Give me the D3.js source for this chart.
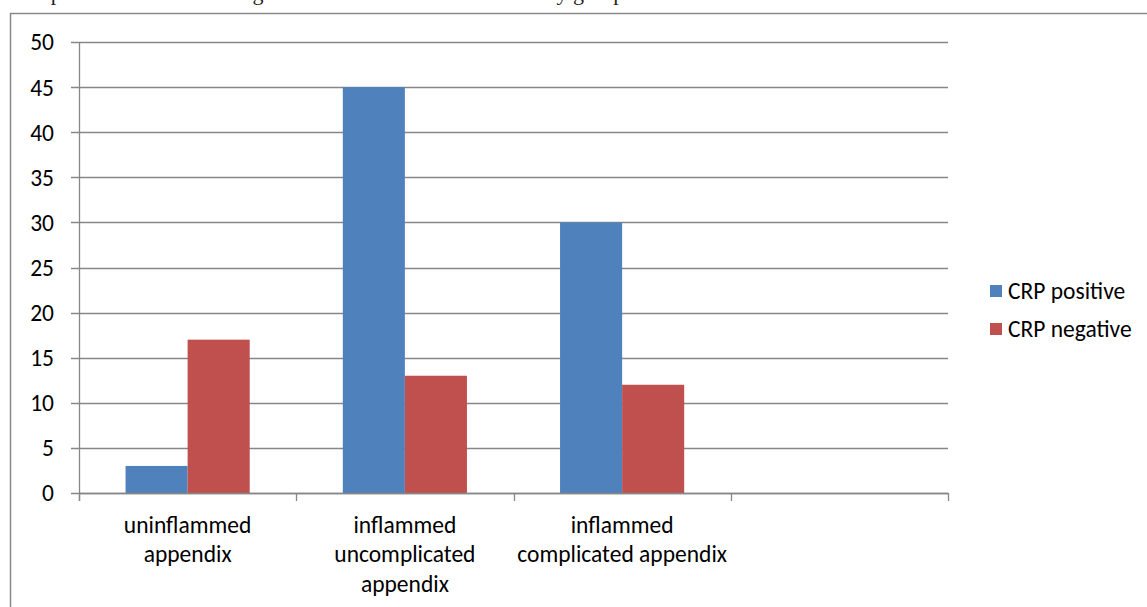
<!DOCTYPE html>
<html>
<head>
<meta charset="utf-8">
<script src="https://cdn.jsdelivr.net/npm/d3@7"></script>
<style>
  html, body { margin: 0; padding: 0; background: #ffffff; }
  svg { display: block; }
</style>
</head>
<body>
<svg id="chart" width="1147" height="607"></svg>
<script>
// Categories on the x axis (the last slot is an empty category)
const categories = ["uninflammed appendix", "inflammed uncomplicated appendix", "inflammed complicated appendix", "empty"];
const categoryLines = [
  ["uninflammed", "appendix"],
  ["inflammed", "uncomplicated", "appendix"],
  ["inflammed", "complicated appendix"],
  []
];
const seriesNames = ["CRP positive", "CRP negative"];
const crpPositive = [3, 45, 30];
const crpNegative = [17, 13, 12];
const yTickValues = [0, 5, 10, 15, 20, 25, 30, 35, 40, 45, 50];
const seriesColors = ["#4F81BD", "#C0504D"];

const svg = d3.select("#chart");
const fontUI = "Carlito, Calibri, Lato, 'Open Sans', sans-serif";
const fontSize = 23.5;

// caption line above the chart frame (only its lower edge shows)
svg.append("text")
  .attr("x", 8).attr("y", -0.5)
  .attr("font-family", "'Liberation Serif', 'Times New Roman', serif")
  .attr("font-size", 22)
  .attr("fill", "#222")
  .text("Comparison between finding and CRP test results in each study group");

// chart frame
svg.append("path")
  .attr("d", "M10.5,607 L10.5,13.5 L1147,13.5")
  .attr("fill", "none")
  .attr("stroke", "#888888")
  .attr("stroke-width", 1.5);

const plot = { left: 79, right: 948, top: 42, bottom: 493 };

const x0 = d3.scaleBand().domain(categories).range([plot.left, plot.right]).paddingInner(0).paddingOuter(0);
const x1 = d3.scaleBand().domain(seriesNames).range([0, x0.bandwidth()]).paddingInner(0).paddingOuter(0.75);
const y = d3.scaleLinear().domain([0, 50]).range([plot.bottom, plot.top]);

const gridColor = "#878787";

// horizontal gridlines with left tick stubs
svg.append("g").selectAll("line")
  .data(yTickValues)
  .join("line")
  .attr("x1", plot.left - 8).attr("x2", plot.right)
  .attr("y1", d => Math.round(y(d)) + 0.5).attr("y2", d => Math.round(y(d)) + 0.5)
  .attr("stroke", gridColor).attr("stroke-width", 1.3);

// y tick labels
svg.append("g").selectAll("text")
  .data(yTickValues)
  .join("text")
  .attr("x", 54).attr("y", d => y(d))
  .attr("dy", "0.36em")
  .attr("text-anchor", "end")
  .attr("font-family", fontUI).attr("font-size", fontSize)
  .attr("fill", "#000")
  .text(d => d);

// bars
const groups = svg.append("g").selectAll("g")
  .data(categories.slice(0, crpPositive.length))
  .join("g")
  .attr("transform", d => `translate(${x0(d)},0)`);

groups.selectAll("rect")
  .data((d, i) => [
    { s: seriesNames[0], v: crpPositive[i], c: seriesColors[0] },
    { s: seriesNames[1], v: crpNegative[i], c: seriesColors[1] }
  ])
  .join("rect")
  .attr("x", d => x1(d.s))
  .attr("width", x1.bandwidth())
  .attr("y", d => y(d.v))
  .attr("height", d => y(0) - y(d.v))
  .attr("fill", d => d.c);

// y axis line
svg.append("line")
  .attr("x1", plot.left + 0.5).attr("x2", plot.left + 0.5)
  .attr("y1", plot.top).attr("y2", plot.bottom + 8)
  .attr("stroke", gridColor).attr("stroke-width", 1.3);

// x axis line and category boundary ticks
svg.append("line")
  .attr("x1", plot.left).attr("x2", plot.right)
  .attr("y1", Math.round(y(0)) + 0.5).attr("y2", Math.round(y(0)) + 0.5)
  .attr("stroke", gridColor).attr("stroke-width", 1.3);

const boundaries = categories.map(c => x0(c)).concat([plot.right]);
svg.append("g").selectAll("line")
  .data(boundaries)
  .join("line")
  .attr("x1", d => Math.round(d) + 0.5).attr("x2", d => Math.round(d) + 0.5)
  .attr("y1", plot.bottom).attr("y2", plot.bottom + 8)
  .attr("stroke", gridColor).attr("stroke-width", 1.3);

// category labels
const labelG = svg.append("g");
categories.forEach((c, i) => {
  const cx = x0(c) + x0.bandwidth() / 2;
  categoryLines[i].forEach((line, j) => {
    labelG.append("text")
      .attr("x", cx).attr("y", 533 + j * 29.3)
      .attr("text-anchor", "middle")
      .attr("font-family", fontUI).attr("font-size", fontSize)
      .attr("fill", "#000")
      .text(line);
  });
});

// legend
const legend = svg.append("g");
seriesNames.forEach((name, i) => {
  const ly = 291 + i * 38;
  legend.append("rect")
    .attr("x", 990).attr("y", ly - 6).attr("width", 12).attr("height", 12)
    .attr("fill", seriesColors[i]);
  legend.append("text")
    .attr("x", 1008).attr("y", ly).attr("dy", "0.36em")
    .attr("font-family", fontUI).attr("font-size", fontSize)
    .attr("fill", "#000")
    .text(name);
});
</script>
</body>
</html>
